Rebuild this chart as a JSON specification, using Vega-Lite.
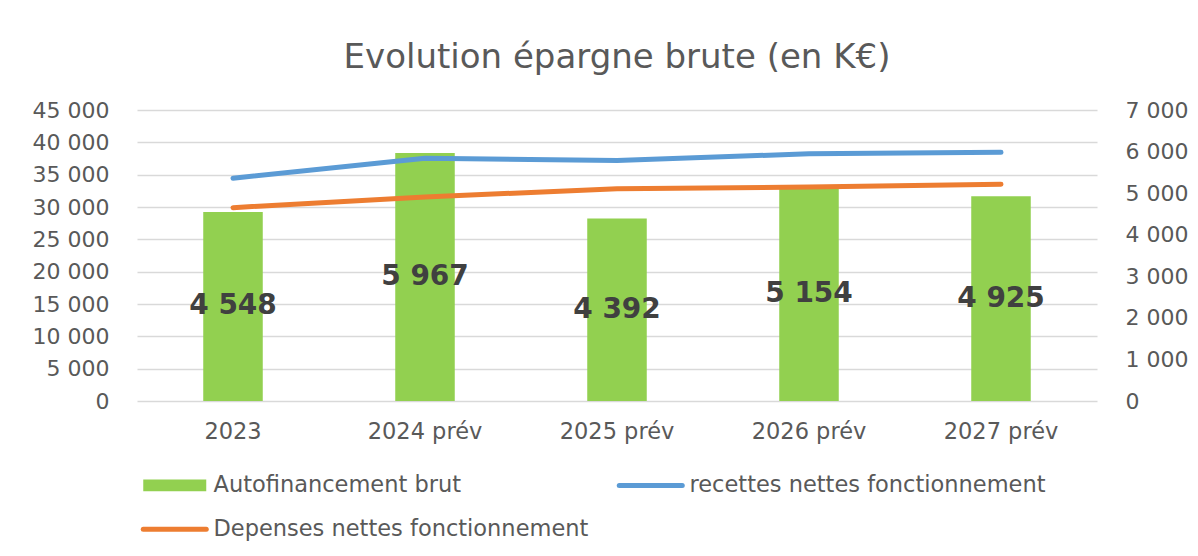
{
  "$schema": "https://vega.github.io/schema/vega-lite/v6.json",
  "width": 960,
  "height": 291,
  "autosize": {"type": "none"},
  "padding": {"left": 137, "top": 110, "right": 101, "bottom": 155},
  "background": "white",
  "title": {"text": "Evolution épargne brute (en K€)", "fontSize": 34, "font": "DejaVu Sans", "fontWeight": "normal", "color": "#595959", "anchor": "middle", "offset": 24},
  "config": {
    "view": {"stroke": null},
    "font": "DejaVu Sans",
    "locale": {"number": {"decimal": ",", "thousands": " ", "grouping": [3], "currency": ["", " €"]}}
  },
  "data": {"values": [
    {"year": "2023", "series": "Autofinancement brut", "value": 4548},
    {"year": "2024 prév", "series": "Autofinancement brut", "value": 5967},
    {"year": "2025 prév", "series": "Autofinancement brut", "value": 4392},
    {"year": "2026 prév", "series": "Autofinancement brut", "value": 5154},
    {"year": "2027 prév", "series": "Autofinancement brut", "value": 4925},
    {"year": "2023", "series": "recettes nettes fonctionnement", "value": 34450},
    {"year": "2024 prév", "series": "recettes nettes fonctionnement", "value": 37530},
    {"year": "2025 prév", "series": "recettes nettes fonctionnement", "value": 37200},
    {"year": "2026 prév", "series": "recettes nettes fonctionnement", "value": 38230},
    {"year": "2027 prév", "series": "recettes nettes fonctionnement", "value": 38450},
    {"year": "2023", "series": "Depenses nettes fonctionnement", "value": 29900},
    {"year": "2024 prév", "series": "Depenses nettes fonctionnement", "value": 31560},
    {"year": "2025 prév", "series": "Depenses nettes fonctionnement", "value": 32810},
    {"year": "2026 prév", "series": "Depenses nettes fonctionnement", "value": 33080},
    {"year": "2027 prév", "series": "Depenses nettes fonctionnement", "value": 33520}
  ]},
  "encoding": {
    "x": {
      "field": "year", "type": "nominal", "sort": null,
      "scale": {"paddingInner": 0, "paddingOuter": 0},
      "axis": {"title": null, "labelAngle": 0, "ticks": false, "domain": false, "labelFontSize": 22.5, "labelColor": "#595959", "labelPadding": 19, "labelFont": "DejaVu Sans"}
    }
  },
  "layer": [
    {
      "transform": [{"filter": "datum.series === 'Autofinancement brut'"}],
      "layer": [
        {
          "mark": {"type": "bar", "width": {"band": 0.31}},
          "encoding": {
            "y": {
              "field": "value", "type": "quantitative",
              "scale": {"domain": [0, 7000], "nice": false},
              "axis": {"orient": "right", "title": null, "values": [0, 1000, 2000, 3000, 4000, 5000, 6000, 7000], "format": ",.0f", "grid": false, "ticks": false, "domain": false, "labelFontSize": 22, "labelColor": "#595959", "labelPadding": 28, "labelFont": "DejaVu Sans"}
            },
            "color": {
              "field": "series", "type": "nominal",
              "scale": {"domain": ["Autofinancement brut", "recettes nettes fonctionnement", "Depenses nettes fonctionnement"], "range": ["#92D050", "#5B9BD5", "#ED7D31"]},
              "legend": {
                "orient": "none", "legendX": 26.5, "legendY": 364, "direction": "horizontal",
                "columns": 2, "columnPadding": 20, "rowPadding": 21,
                "title": null, "labelFontSize": 22.5, "labelColor": "#595959", "labelFont": "DejaVu Sans", "labelOffset": 27.5, "labelLimit": 0,
                "symbolSize": 3969,
                "encode": {
                  "symbols": {
                    "update": {
                      "shape": {"signal": "datum.value === 'Autofinancement brut' ? 'M-1,-0.19H1V0.19H-1Z' : 'stroke'"},
                      "fill": {"signal": "datum.value === 'Autofinancement brut' ? '#92D050' : 'transparent'"},
                      "stroke": {"signal": "datum.value === 'Autofinancement brut' ? 'transparent' : scale('color', datum.value)"},
                      "strokeWidth": {"signal": "datum.value === 'Autofinancement brut' ? 0 : 5"},
                      "strokeCap": {"value": "round"},
                      "opacity": {"value": 1}
                    }
                  }
                }
              }
            }
          }
        },
        {
          "transform": [{"calculate": "datum.value / 2", "as": "labelPos"}],
          "mark": {"type": "text", "fontSize": 28, "fontWeight": "bold", "color": "#404040", "font": "DejaVu Sans", "baseline": "middle"},
          "encoding": {
            "y": {"field": "labelPos", "type": "quantitative"},
            "text": {"field": "value", "type": "quantitative", "format": ","}
          }
        }
      ]
    },
    {
      "transform": [{"filter": "datum.series !== 'Autofinancement brut'"}],
      "mark": {"type": "line", "strokeWidth": 5, "strokeCap": "round", "strokeJoin": "round"},
      "encoding": {
        "y": {
          "field": "value", "type": "quantitative",
          "scale": {"domain": [0, 45000], "nice": false},
          "axis": {"orient": "left", "title": null, "values": [0, 5000, 10000, 15000, 20000, 25000, 30000, 35000, 40000, 45000], "format": ",.0f", "grid": true, "gridColor": "#D9D9D9", "gridWidth": 1.3, "ticks": false, "domain": false, "labelFontSize": 22, "labelColor": "#595959", "labelPadding": 28, "labelFont": "DejaVu Sans"}
        },
        "color": {"field": "series", "type": "nominal"}
      }
    }
  ],
  "resolve": {"scale": {"y": "independent"}}
}
